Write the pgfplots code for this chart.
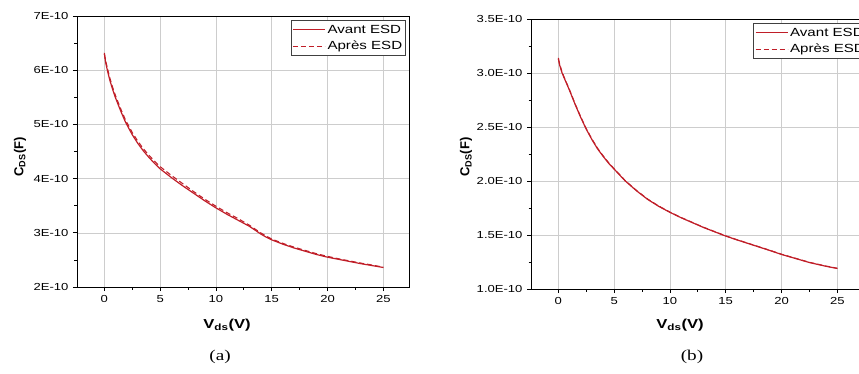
\documentclass[border=0pt]{standalone}
\usepackage{fontspec}
\usepackage{pgfplots}
\pgfplotsset{compat=1.18}
\setmainfont{Liberation Sans}[FakeStretch=1.28]
\newfontfamily\capfont{Liberation Serif}[FakeStretch=1.28]
\newfontfamily\ylabfont{Liberation Sans}
\definecolor{cred}{RGB}{192,30,40}
\definecolor{gridc}{RGB}{205,205,205}

\pgfplotsset{
  myax/.style={
    scale only axis, width=332pt, clip=false,
    xmin=-2.45, xmax=27.3,
    xtick={0,5,10,15,20,25},
    minor x tick num=1, minor y tick num=1,
    tick align=outside, xtick pos=bottom, ytick pos=left,
    major tick length=4pt, minor tick length=2.5pt,
    tick style={black, line width=0.8pt},
    axis line style={black, line width=0.9pt},
    grid=major, grid style={gridc, line width=0.6pt},
    scaled y ticks=false,
    /pgf/number format/assume math mode=true,
    tick label style={font=\fontsize{10.2}{12}\selectfont},
    yticklabel style={xshift=-1pt},
    xticklabel style={yshift=-1pt},
    legend cell align=left,
    legend style={draw=black!75, line width=0.6pt, font=\fontsize{11.8}{14}\selectfont,
      inner xsep=1.5pt, inner ysep=2.5pt, row sep=2.5pt, fill=white},
    xlabel={\bfseries\fontsize{13}{15}\selectfont V\textsubscript{ds}(V)},
    ylabel={\ylabfont\bfseries\fontsize{13}{15}\selectfont C\textsubscript{DS}(F)},
  },
  avant/.style={cred, line width=1.2pt,
    legend image code/.code={\draw[##1] (0pt,0pt) -- (32pt,0pt);}},
  apres/.style={cred, line width=1.1pt, dash pattern=on 5pt off 3pt,
    legend image code/.code={\draw[##1] (0pt,0pt) -- (32pt,0pt);}},
}

\begin{document}
\begin{tikzpicture}
\useasboundingbox (0pt,0pt) rectangle (859pt,373pt);
\clip (0pt,0pt) rectangle (859pt,373pt);
\begin{axis}[myax, height=271pt, at={(77pt,86pt)}, anchor=south west,
  ymin=2e-10, ymax=7e-10,
  ytick={2e-10,3e-10,4e-10,5e-10,6e-10,7e-10},
  yticklabels={2E-10,3E-10,4E-10,5E-10,6E-10,7E-10},
  xlabel style={at={(axis description cs:0.452,-0.14)}, anchor=center},
  ylabel style={at={(axis description cs:-0.172,0.48)}, anchor=center},
  legend style={at={(axis description cs:0.991,0.985)}, anchor=north east},
]
\addplot[avant] coordinates {
(0,6.32e-10) (0.1,6.16e-10) (0.27,6.00e-10) (0.5,5.81e-10) (0.75,5.64e-10)
(1,5.49e-10) (1.5,5.23e-10) (1.9,5.04e-10) (2.5,4.81e-10) (3,4.65e-10)
(3.5,4.51e-10) (4,4.39e-10) (4.5,4.28e-10) (5,4.18e-10) (6,4.02e-10)
(7,3.87e-10) (8,3.73e-10) (9,3.59e-10) (10,3.46e-10) (11,3.34e-10)
(12,3.23e-10) (13,3.12e-10) (13.5,3.05e-10) (14,2.98e-10) (14.5,2.92e-10)
(15,2.87e-10) (16,2.79e-10) (17,2.72e-10) (18,2.66e-10) (19,2.60e-10)
(20,2.55e-10) (21,2.51e-10) (22,2.47e-10) (23,2.43e-10) (24,2.395e-10)
(25,2.36e-10)
};
\addlegendentry{Avant ESD}
\addplot[apres] coordinates {
(0,6.30e-10) (0.1,6.19e-10) (0.27,6.04e-10) (0.5,5.85e-10) (0.75,5.68e-10)
(1,5.53e-10) (1.5,5.27e-10) (1.9,5.08e-10) (2.5,4.85e-10) (3,4.69e-10)
(3.5,4.55e-10) (4,4.43e-10) (4.5,4.32e-10) (5,4.22e-10) (6,4.06e-10)
(7,3.91e-10) (8,3.76e-10) (9,3.62e-10) (10,3.49e-10) (11,3.37e-10)
(12,3.26e-10) (13,3.14e-10) (13.5,3.07e-10) (14,3.00e-10) (14.5,2.94e-10)
(15,2.885e-10) (16,2.805e-10) (17,2.735e-10) (18,2.675e-10) (19,2.615e-10)
(20,2.565e-10) (21,2.52e-10) (22,2.48e-10) (23,2.44e-10) (24,2.405e-10)
(25,2.365e-10)
};
\addlegendentry{Après ESD}
\node[font=\capfont\fontsize{15}{17}\selectfont] at (axis description cs:0.431,-0.258) {(a)};
\end{axis}

\begin{axis}[myax, height=270pt, at={(531pt,84pt)}, anchor=south west,
  ymin=1e-10, ymax=3.5e-10,
  ytick={1e-10,1.5e-10,2e-10,2.5e-10,3e-10,3.5e-10},
  yticklabels={1.0E-10,1.5E-10,2.0E-10,2.5E-10,3.0E-10,3.5E-10},
  xlabel style={at={(axis description cs:0.449,-0.133)}, anchor=center},
  ylabel style={at={(axis description cs:-0.196,0.489)}, anchor=center},
  legend style={at={(axis description cs:0.669,0.985)}, anchor=north west},
]
\addplot[avant] coordinates {
(0,3.14e-10) (0.1,3.08e-10) (0.3,3.01e-10) (0.5,2.96e-10) (1,2.84e-10)
(1.5,2.71e-10) (2,2.59e-10) (2.5,2.48e-10) (3,2.385e-10) (3.5,2.30e-10)
(4,2.23e-10) (4.5,2.165e-10) (5,2.11e-10) (6,2.00e-10) (7,1.91e-10)
(8,1.83e-10) (9,1.765e-10) (10,1.71e-10) (11,1.66e-10) (12,1.615e-10)
(13,1.57e-10) (14,1.53e-10) (15,1.49e-10) (16,1.455e-10) (17.5,1.405e-10)
(19,1.355e-10) (20,1.32e-10) (21,1.29e-10) (22.5,1.245e-10) (24,1.21e-10)
(25,1.19e-10)
};
\addlegendentry{Avant ESD}
\addplot[apres] coordinates {
(0,3.13e-10) (0.1,3.09e-10) (0.3,3.02e-10) (0.5,2.965e-10) (1,2.845e-10)
(1.5,2.715e-10) (2,2.595e-10) (2.5,2.485e-10) (3,2.39e-10) (3.5,2.305e-10)
(4,2.235e-10) (4.5,2.17e-10) (5,2.113e-10) (6,2.003e-10) (7,1.913e-10)
(8,1.833e-10) (9,1.768e-10) (10,1.712e-10) (11,1.662e-10) (12,1.617e-10)
(13,1.572e-10) (14,1.532e-10) (15,1.492e-10) (16,1.457e-10) (17.5,1.407e-10)
(19,1.357e-10) (20,1.322e-10) (21,1.292e-10) (22.5,1.247e-10) (24,1.212e-10)
(25,1.192e-10)
};
\addlegendentry{Après ESD}
\node[font=\capfont\fontsize{15}{17}\selectfont] at (axis description cs:0.485,-0.252) {(b)};
\end{axis}
\end{tikzpicture}
\end{document}
